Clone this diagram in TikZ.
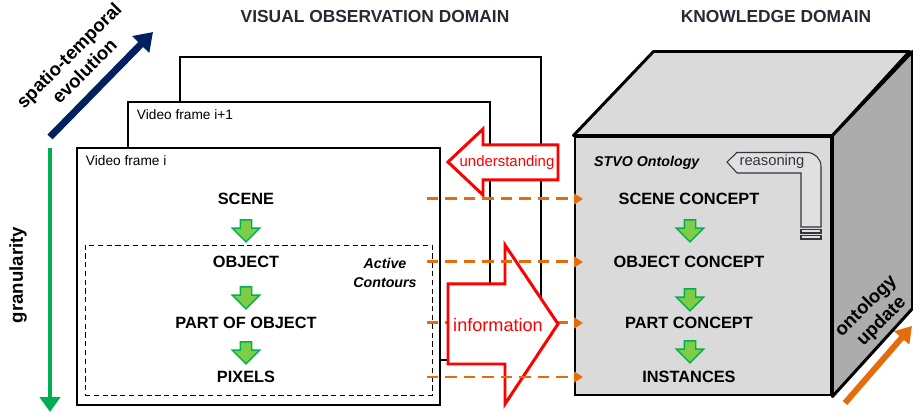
\documentclass[tikz,border=0pt]{standalone}
\usepackage{xcolor}
\usepackage{fontspec}
\setmainfont{Liberation Sans}
\usepackage{tikz}
\usetikzlibrary{shapes.arrows, arrows.meta, positioning, calc}
\definecolor{myred}{RGB}{255,0,0}
\definecolor{mynavy}{RGB}{0,32,96}
\definecolor{mygreen}{RGB}{0,176,80}
\definecolor{mylime}{RGB}{125,205,70}
\definecolor{myorange}{RGB}{228,108,10}
\definecolor{myface}{RGB}{218,218,218}
\definecolor{myside}{RGB}{172,172,172}
\definecolor{mylight}{RGB}{224,224,224}
\definecolor{mydgray}{RGB}{50,52,62}
\definecolor{mytitle}{RGB}{38,42,52}
\tikzset{
  vframe/.style={draw=black, fill=white, line width=1.6pt, inner sep=0pt},
  lvl/.style={font=\fontsize{9.3}{11}\selectfont\bfseries},
  ftag/.style={font=\fontsize{7.8}{9}\selectfont, inner sep=0pt},
  dtitle/.style={font=\fontsize{9.9}{12}\selectfont\bfseries, text=mytitle},
  axlabel/.style={font=\fontsize{10.6}{12.5}\selectfont\bfseries, align=center},
  gdown/.style={single arrow, rotate=-90, draw=mygreen, fill=mylime,
    line width=0.8pt, inner sep=0.1cm, minimum height=0.44cm,
    single arrow head extend=0.16cm, single arrow head indent=0pt},
  flow/.style={-{Triangle[length=5pt,width=6pt]}, draw=myorange,
    line width=1.7pt, dash pattern=on 6.5pt off 4pt},
  bigarrow/.style={draw=myred, fill=white, line width=1.7pt, line join=miter}
}

\begin{document}
\begin{tikzpicture}
  \useasboundingbox (0,0) rectangle (18.26,8.26);

  % Titles
  \node[dtitle] (vtitle) at (7.5,7.92) {VISUAL OBSERVATION DOMAIN};
  \node[dtitle] (ktitle) at (15.52,7.92) {KNOWLEDGE DOMAIN};

  % Video frames
  \node[vframe, minimum width=7.22cm, minimum height=5.16cm] (fr2) at (7.21,4.54) {};
  \node[vframe, minimum width=7.24cm, minimum height=5.16cm] (fr1) at (6.18,3.64) {};
  \node[vframe, minimum width=7.26cm, minimum height=5.14cm] (fr0) at (5.17,2.73) {};
  \node[ftag, below right=0.17cm and 0.2cm of fr1.north west] (tag1) {Video frame i+1};
  \node[ftag, below right=0.17cm and 0.2cm of fr0.north west] (tag0) {Video frame i};
  \node[draw, densely dashed, line width=0.5pt, minimum width=6.94cm,
    minimum height=3.0cm] (ctx) at (5.17,1.86) {};

  \node[lvl] (scene) at (4.92,4.28) {SCENE};
  \node[lvl] (object) at (4.92,3.02) {OBJECT};
  \node[lvl] (part) at (4.92,1.80) {PART OF OBJECT};
  \node[lvl] (pixels) at (4.92,0.72) {PIXELS};
  \node[gdown] (ga1) at (4.92,3.70) {};
  \node[gdown] (ga2) at (4.92,2.36) {};
  \node[gdown] (ga3) at (4.92,1.26) {};
  \node[font=\fontsize{8.1}{10.8}\selectfont\bfseries\itshape, align=center] (ac)
    at (7.7,2.8) {Active\\Contours};

  % Knowledge cube
  \node[draw, fill=myface, line width=1.7pt, minimum width=5.12cm,
    minimum height=5.16cm, inner sep=0pt] (cube) at (14.06,2.94) {};
  \draw[fill=myface, line width=1.7pt, line join=round] (cube.north west)
    -- ++(1.6,1.68) -- ++(5.12,0) -- (cube.north east) -- cycle;
  \draw[fill=myside, line width=1.7pt, line join=round] (cube.north east)
    -- ++(1.6,1.68) -- ++(0,-5.14) -- (cube.south east) -- cycle;
  \node[anchor=west, font=\fontsize{8.1}{10}\selectfont\bfseries\itshape] (stvo)
    at (11.76,5.0) {STVO Ontology};

  \node[lvl] (sceneC) at (13.78,4.28) {SCENE CONCEPT};
  \node[lvl] (objectC) at (13.78,3.02) {OBJECT CONCEPT};
  \node[lvl] (partC) at (13.78,1.80) {PART CONCEPT};
  \node[lvl] (inst) at (13.78,0.72) {INSTANCES};
  \node[gdown] (gb1) at (13.8,3.70) {};
  \node[gdown] (gb2) at (13.8,2.32) {};
  \node[gdown] (gb3) at (13.8,1.28) {};

  % reasoning arrow
  \draw[fill=mylight, draw=mydgray, line width=0.6pt] (14.54,5.02) -- (14.74,5.21)
    -- (16.14,5.21) arc[start angle=90, end angle=0, radius=0.28] -- (16.42,3.72)
    -- (16.02,3.72) -- (16.02,4.8) -- (14.74,4.8) -- cycle;
  \draw[fill=mylight, draw=mydgray, line width=0.6pt] (16.02,3.67) rectangle (16.42,3.60);
  \draw[fill=mylight, draw=mydgray, line width=0.6pt] (16.02,3.55) rectangle (16.42,3.48);
  \node[font=\fontsize{8.4}{10}\selectfont, text=mydgray] (reas) at (15.44,5.02) {reasoning};

  % Mapping arrows
  \coordinate (fs) at (8.54,0);
  \coordinate (fe) at (11.66,0);
  \draw[flow] (part -| fs) -- (partC -| fe);

  \draw[bigarrow] (8.96,5.02) -- (9.66,5.68) -- (9.66,5.36) -- (11.16,5.36)
    -- (11.16,4.66) -- (9.66,4.66) -- (9.66,4.36) -- cycle;
  \node[font=\fontsize{8.5}{10}\selectfont, text=myred] (und) at (10.14,5.0) {understanding};
  \draw[bigarrow] (8.96,2.58) -- (10.1,2.58) -- (10.1,3.36) -- (11.16,1.78)
    -- (10.1,0.18) -- (10.1,0.98) -- (8.96,0.98) -- cycle;
  \node[font=\fontsize{10.3}{12}\selectfont, text=myred] (info) at (9.96,1.76) {information};

  \draw[flow] (scene -| fs) -- (sceneC -| fe);
  \draw[flow] (object -| fs) -- (objectC -| fe);
  \draw[flow] (pixels -| fs) -- (inst -| fe);

  % Axes
  \coordinate (st0) at (1.0,5.52);
  \coordinate (st1) at (3.06,7.62);
  \draw[-{Triangle[length=10pt,width=13pt]}, mynavy, line width=4pt] (st0) -- (st1);
  \node[axlabel, rotate=45] (evo) at (1.53,7.0) {spatio-temporal\\evolution};

  \coordinate (gr0) at (1.0,5.3);
  \coordinate (gr1) at (1.0,0.02);
  \draw[-{Triangle[length=8.5pt,width=11.5pt]}, mygreen, line width=2.8pt] (gr0) -- (gr1);
  \node[axlabel, rotate=90] (gran) at (0.36,2.76) {granularity};

  \coordinate (up0) at (16.9,0.2);
  \coordinate (up1) at (18.24,1.74);
  \draw[-{Triangle[length=9pt,width=11pt]}, myorange, line width=3.4pt] (up0) -- (up1);
  \node[axlabel, rotate=45] (upd) at (17.48,1.98) {ontology\\update};
\end{tikzpicture}
\end{document}
